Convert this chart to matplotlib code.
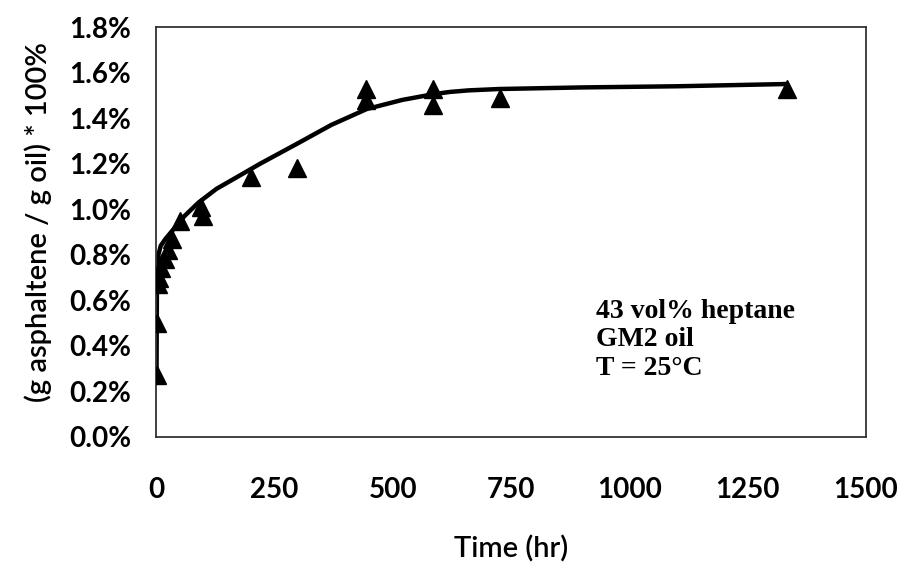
import matplotlib
matplotlib.use("Agg")
import matplotlib.pyplot as plt
from matplotlib.ticker import FuncFormatter

# Measured data (hr, % g asphaltene / g oil)
time_hr = [1, 2, 4, 6, 10, 18, 25, 34, 50, 96, 100, 200, 298, 443, 443, 585, 585, 727, 1333]
yield_pct = [0.27, 0.50, 0.67, 0.70, 0.74, 0.78, 0.82, 0.87, 0.95, 1.01, 0.97, 1.14, 1.18,
             1.53, 1.48, 1.53, 1.46, 1.49, 1.53]

# Fitted trend curve
fit_t = [1, 2, 5, 10, 20, 36, 60, 90, 128, 170, 220, 300, 370, 445, 520, 585, 620, 660, 725,
         900, 1100, 1333]
fit_y = [0.27, 0.70, 0.80, 0.84, 0.87, 0.91, 0.97, 1.03, 1.09, 1.14, 1.20, 1.29, 1.37, 1.44,
         1.48, 1.505, 1.515, 1.522, 1.528, 1.535, 1.54, 1.55]

x_ticks = [0, 250, 500, 750, 1000, 1250, 1500]
y_ticks = [0.0, 0.2, 0.4, 0.6, 0.8, 1.0, 1.2, 1.4, 1.6, 1.8]

fig = plt.figure(figsize=(9.04, 5.64), dpi=100)
ax = fig.add_axes([0.1726, 0.2252, 0.958 - 0.1726, 0.952 - 0.2252])

ax.plot(fit_t, fit_y, color="black", lw=3.2, solid_capstyle="round",
        solid_joinstyle="round", zorder=2)
ax.plot(time_hr, yield_pct, linestyle="none", marker="^", color="black", ms=12.5, zorder=3)

ax.set_xlim(0, 1500)
ax.set_ylim(0, 1.8)
ax.set_xticks(x_ticks)
ax.set_yticks(y_ticks)
ax.yaxis.set_major_formatter(FuncFormatter(lambda v, p: f"{v:.1f}%"))
ax.tick_params(length=0)
ax.tick_params(axis="x", pad=29)
ax.tick_params(axis="y", pad=18)
for lab in ax.get_xticklabels() + ax.get_yticklabels():
    lab.set_fontfamily("Lato")
    lab.set_fontweight("bold")
    lab.set_fontsize(20)

for s in ax.spines.values():
    s.set_linewidth(1.3)
    s.set_color("#333333")

ax.set_xlabel("Time (hr)", fontfamily="Lato", fontsize=21, fontweight="semibold")
ax.xaxis.label.set_va("center")
ax.xaxis.set_label_coords(0.5, -0.273)
ax.set_ylabel("(g asphaltene / g oil) * 100%", fontfamily="Lato", fontsize=21,
              fontweight="semibold")
ax.yaxis.label.set_va("center")
ax.yaxis.set_label_coords(-0.166, 0.525)

ax.text(0.62, 0.237, "43 vol% heptane\nGM2 oil\nT = 25°C", transform=ax.transAxes,
        fontfamily="Liberation Serif", fontweight="bold", fontsize=20,
        linespacing=1.2, va="center", ha="left")

fig.savefig("out.png", dpi=100)
